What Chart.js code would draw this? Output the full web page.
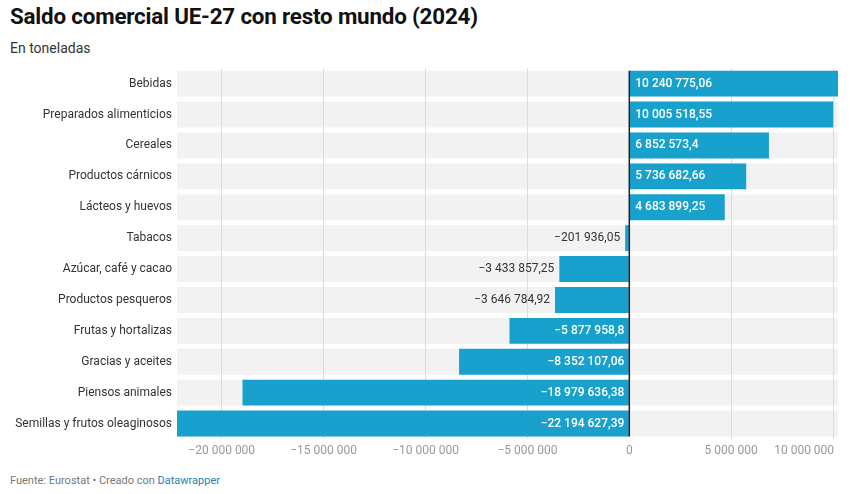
<!DOCTYPE html>
<html>
<head>
<meta charset="utf-8">
<script src="https://cdn.jsdelivr.net/npm/chart.js@4"></script>
<style>
  html, body { margin: 0; padding: 0; background: #fff; }
  body { width: 850px; height: 494px; position: relative; font-family: Roboto, sans-serif; overflow: hidden; }
  h1 { position: absolute; left: 10px; top: 3px; margin: 0; font-size: 22.4px; font-weight: 700; color: #111; letter-spacing: -0.2px; }
  .sub { position: absolute; left: 10px; top: 40px; font-size: 14px; color: #333; }
  .foot { position: absolute; left: 10px; top: 474px; font-size: 11px; color: #777; }
  .foot span { color: #1d7fb3; }
  #wrap { position: absolute; left: 10px; top: 56px; width: 835px; height: 404px; }
</style>
</head>
<body>
<h1>Saldo comercial UE-27 con resto mundo (2024)</h1>
<div class="sub">En toneladas</div>
<div id="wrap"><canvas id="chart"></canvas></div>
<div class="foot">Fuente: Eurostat • Creado con <span>Datawrapper</span></div>
<script>
const categories = [
  'Bebidas', 'Preparados alimenticios', 'Cereales', 'Productos cárnicos',
  'Lácteos y huevos', 'Tabacos', 'Azúcar, café y cacao', 'Productos pesqueros',
  'Frutas y hortalizas', 'Gracias y aceites', 'Piensos animales',
  'Semillas y frutos oleaginosos'
];
const values = [
  10240775.06, 10005518.55, 6852573.4, 5736682.66,
  4683899.25, -201936.05, -3433857.25, -3646784.92,
  -5877958.8, -8352107.06, -18979636.38, -22194627.39
];
const tickValues = [-20000000, -15000000, -10000000, -5000000, 0, 5000000, 10000000];

const BAR = '#18a1cd';
const ROW = '#f2f2f2';
const FONT = 'Roboto, sans-serif';

function fmt(n) {
  const neg = n < 0;
  const s = Math.abs(n).toString().split('.');
  const int = s[0].replace(/\B(?=(\d{3})+(?!\d))/g, ' ');
  return (neg ? '\u2212' : '') + int + (s[1] ? ',' + s[1] : '');
}

// gray rows behind everything
const rowsPlugin = {
  id: 'rows',
  beforeDraw(chart) {
    const ctx = chart.ctx, area = chart.chartArea;
    const meta = chart.getDatasetMeta(0);
    ctx.save();
    ctx.fillStyle = ROW;
    meta.data.forEach(bar => {
      ctx.fillRect(area.left, bar.y - bar.height / 2, area.right - area.left, bar.height);
    });
    ctx.restore();
  }
};

// zero line, value labels, x tick labels
const labelsPlugin = {
  id: 'labels',
  afterDatasetsDraw(chart) {
    const ctx = chart.ctx, x = chart.scales.x;
    const meta = chart.getDatasetMeta(0);
    const x0 = x.getPixelForValue(0);
    ctx.save();
    ctx.textBaseline = 'middle';
    meta.data.forEach((bar, i) => {
      const v = values[i];
      const txt = fmt(v);
      ctx.font = '500 12px ' + FONT;
      const w = ctx.measureText(txt).width;
      const len = Math.abs(bar.x - x0);
      if (v >= 0) {
        ctx.fillStyle = '#fff';
        ctx.textAlign = 'left';
        ctx.fillText(txt, x0 + 6, bar.y);
      } else if (len > w + 12) {
        ctx.fillStyle = '#fff';
        ctx.textAlign = 'right';
        ctx.fillText(txt, x0 - 5, bar.y);
      } else {
        ctx.font = '12px ' + FONT;
        ctx.fillStyle = '#333';
        ctx.textAlign = 'right';
        ctx.fillText(txt, bar.x - 5, bar.y);
      }
    });
    const first = meta.data[0], last = meta.data[meta.data.length - 1];
    ctx.strokeStyle = '#222';
    ctx.lineWidth = 1.5;
    ctx.beginPath();
    ctx.moveTo(x0, first.y - first.height / 2);
    ctx.lineTo(x0, last.y + last.height / 2);
    ctx.stroke();

    ctx.font = '12px ' + FONT;
    ctx.fillStyle = '#999';
    tickValues.forEach((t, i) => {
      const px = x.getPixelForValue(t);
      const isLast = i === tickValues.length - 1;
      ctx.textAlign = isLast ? 'right' : 'center';
      ctx.fillText(fmt(t), isLast ? px + 1 : px, 451 - 56);
    });
    ctx.restore();
  }
};

new Chart(document.getElementById('chart'), {
  type: 'bar',
  data: {
    labels: categories,
    datasets: [{
      data: values,
      backgroundColor: BAR,
      borderWidth: 0,
      barPercentage: 1,
      categoryPercentage: 26 / 31,
    }]
  },
  options: {
    indexAxis: 'y',
    responsive: true,
    maintainAspectRatio: false,
    animation: false,
    layout: { padding: { top: 0, bottom: 21, right: 7, left: 0 } },
    scales: {
      x: {
        min: Math.min(...values),
        max: Math.max(...values),
        afterBuildTicks(scale) { scale.ticks = tickValues.map(v => ({ value: v })); },
        grid: {
          color: ctx => ctx.tick && ctx.tick.value === 0 ? 'rgba(0,0,0,0)' : '#dcdcdc',
          drawTicks: false,
        },
        border: { display: false },
        ticks: { display: false },
      },
      y: {
        afterFit(scale) { scale.width = 167; },
        grid: { display: false, drawTicks: false },
        border: { display: false },
        ticks: {
          color: '#333',
          padding: 5,
          font: { family: FONT, size: 12 },
        }
      }
    },
    plugins: {
      legend: { display: false },
      tooltip: { enabled: false },
    }
  },
  plugins: [rowsPlugin, labelsPlugin]
});
</script>
</body>
</html>
